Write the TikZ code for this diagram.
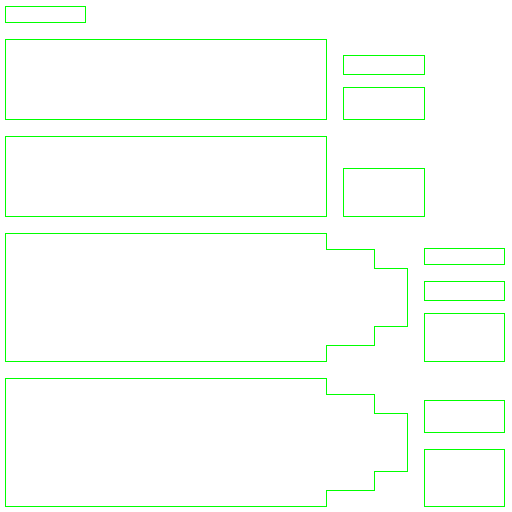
\documentclass[tikz,border=0pt]{standalone}
\definecolor{boxgreen}{RGB}{0,255,0}
\begin{document}
\begin{tikzpicture}[x=1pt,y=-1pt,
  outline/.style={draw=boxgreen,line width=1pt}]
\useasboundingbox (0,0) rectangle (512,512);
% top left small bar
\draw[outline] (5.5,6.5) rectangle (85.5,22.5);
% row 1
\draw[outline] (5.5,39.5) rectangle (326.5,119.5);
\draw[outline] (343.5,55.5) rectangle (424.5,74.5);
\draw[outline] (343.5,87.5) rectangle (424.5,119.5);
% row 2
\draw[outline] (5.5,136.5) rectangle (326.5,216.5);
\draw[outline] (343.5,168.5) rectangle (424.5,216.5);
% row 3
\draw[outline] (5.5,233.5) -- (326.5,233.5) -- (326.5,249.5) -- (374.5,249.5) -- (374.5,268.5)
  -- (407.5,268.5) -- (407.5,326.5) -- (374.5,326.5) -- (374.5,345.5) -- (326.5,345.5)
  -- (326.5,361.5) -- (5.5,361.5) -- cycle;
\draw[outline] (424.5,248.5) rectangle (504.5,264.5);
\draw[outline] (424.5,281.5) rectangle (504.5,300.5);
\draw[outline] (424.5,313.5) rectangle (504.5,361.5);
% row 4
\draw[outline] (5.5,378.5) -- (326.5,378.5) -- (326.5,394.5) -- (374.5,394.5) -- (374.5,413.5)
  -- (407.5,413.5) -- (407.5,471.5) -- (374.5,471.5) -- (374.5,490.5) -- (326.5,490.5)
  -- (326.5,506.5) -- (5.5,506.5) -- cycle;
\draw[outline] (424.5,400.5) rectangle (504.5,432.5);
\draw[outline] (424.5,449.5) rectangle (504.5,506.5);
\end{tikzpicture}
\end{document}
